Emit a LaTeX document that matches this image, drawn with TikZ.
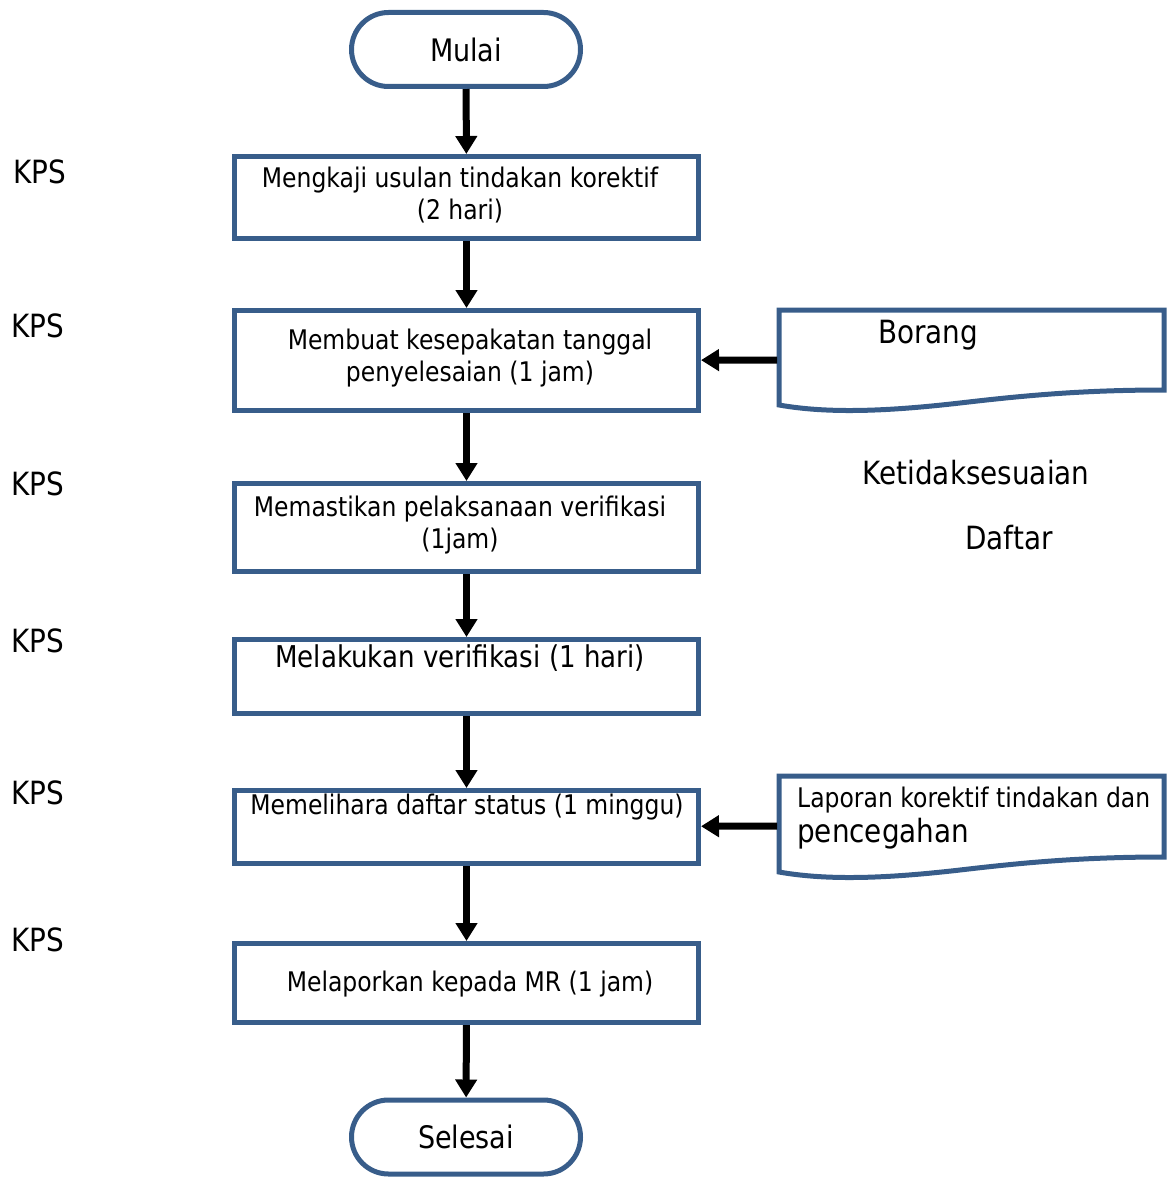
\documentclass[tikz,border=0pt]{standalone}
\usepackage{fontspec}
\setmainfont{DejaVu Sans}[FakeStretch=0.87]
\usetikzlibrary{arrows.meta,shapes.misc}
\definecolor{bord}{HTML}{385D8A}
\tikzset{
  box/.style={draw=bord, line width=5pt, minimum width=464pt, inner sep=0pt},
  term/.style={rounded rectangle, draw=bord, line width=5pt, minimum width=229pt, minimum height=74pt, inner sep=0pt, font=\fontsize{31}{36}\selectfont},
  arr/.style={line width=7pt, -{Triangle[length=18pt,width=21pt]}},
  big/.style={font=\fontsize{32}{38}\selectfont, inner sep=0pt},
  mid/.style={font=\fontsize{30}{36}\selectfont, inner sep=0pt},
  small/.style={font=\fontsize{27}{32}\selectfont, align=center, inner sep=0pt},
  docshape/.style={draw=bord, line width=5pt}
}
\begin{document}
\begin{tikzpicture}[x=1pt,y=-1pt]
\useasboundingbox (0,0) rectangle (1168,1177);
% terminators
\node[term] (m) at (466,49.5) {Mulai};
\node[term] (s) at (466,1137) {Selesai};
% boxes
\node[box, minimum height=82pt]  (b1) at (466.5,197.5) {};
\node[box, minimum height=100pt] (b2) at (466.5,360.5) {};
\node[box, minimum height=88pt]  (b3) at (466.5,527.5) {};
\node[box, minimum height=74pt]  (b4) at (466.5,676.5) {};
\node[box, minimum height=73pt]  (b5) at (466.5,827) {};
\node[box, minimum height=79pt]  (b6) at (466.5,983) {};
% box texts
\node[small] (t1) at (460,195) {Mengkaji usulan tindakan korektif\\(2 hari)};
\node[small] (t2) at (470,358) {Membuat kesepakatan tanggal\\penyelesaian (1 jam)};
\node[small] (t3) at (460,525) {Memastikan pelaksanaan verifikasi\\(1jam)};
\node[mid]   (t4) at (460,658) {Melakukan verifikasi (1 hari)};
\node[small] (t5) at (467,807) {Memelihara daftar status (1 minggu)};
\node[small] (t6) at (470,984) {Melaporkan kepada MR (1 jam)};
% vertical arrows
\draw[arr] (m) -- (b1);
\draw[arr] (b1) -- (b2);
\draw[arr] (b2) -- (b3);
\draw[arr] (b3) -- (b4);
\draw[arr] (b4) -- (b5);
\draw[arr] (b5) -- (b6);
\draw[arr] (b6) -- (s);
% KPS labels
\node[big] (k1) at (40,172) {KPS};
\node[big] (k2) at (38,326) {KPS};
\node[big] (k3) at (38,484) {KPS};
\node[big] (k4) at (38,641) {KPS};
\node[big] (k5) at (38,793) {KPS};
\node[big] (k6) at (38,940) {KPS};
% document shapes
\draw[docshape] (779,310) -- (1164,310) -- (1164,390)
  .. controls (1080,390) and (1020,396) .. (960,403)
  .. controls (890,411) and (830,414) .. (779,405) -- cycle;
\node[big] (borang) at (928,335) {Borang};
\coordinate (bo) at (777,360);
\draw[arr] (bo) -- (b2);
\draw[docshape] (779,776) -- (1164,776) -- (1164,857)
  .. controls (1080,857) and (1020,863) .. (960,870)
  .. controls (890,878) and (830,881) .. (779,872) -- cycle;
\node[small, anchor=base west] (lap1) at (797,807) {Laporan korektif tindakan dan};
\node[big, anchor=base west] (lap2) at (797,842) {pencegahan};
\coordinate (lp) at (777,826);
\draw[arr] (lp) -- (b5);
% free texts
\node[big] (ket) at (976,473) {Ketidaksesuaian};
\node[big] (daf) at (1009,538) {Daftar};
\end{tikzpicture}
\end{document}
